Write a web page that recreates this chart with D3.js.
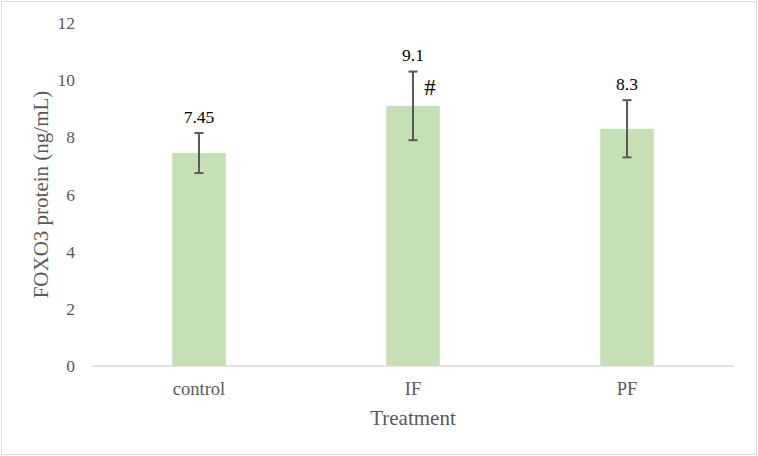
<!DOCTYPE html>
<html><head><meta charset="utf-8">
<script src="https://cdn.jsdelivr.net/npm/d3@7"></script>
<style>body{margin:0;background:#fff;} svg{display:block;}</style>
</head><body>
<script>
const categories = ["control", "IF", "PF"];
const values = [7.45, 9.1, 8.3];
const errors = [0.7, 1.2, 1.0];
const valueLabels = ["7.45", "9.1", "8.3"];
const marks = ["", "#", ""];
const yTicks = [0, 2, 4, 6, 8, 10, 12];

const W = 758, H = 456;
const m = {left: 92, right: 24, top: 23, bottom: 90};
const svg = d3.select("body").append("svg").attr("width", W).attr("height", H);
svg.append("rect").attr("x", 1.5).attr("y", 1.5).attr("width", W - 3).attr("height", H - 3)
  .attr("fill", "#fff").attr("stroke", "#D9D9D9").attr("stroke-width", 1);

const x = d3.scaleBand().domain(categories).range([m.left, W - m.right]).padding(0);
const y = d3.scaleLinear().domain([0, 12]).range([H - m.bottom, m.top]);
const font = "'Liberation Serif','Times New Roman',serif";

// y tick labels
svg.append("g").selectAll("text").data(yTicks).join("text")
  .attr("x", m.left - 17).attr("y", d => y(d)).attr("dy", "0.35em")
  .attr("text-anchor", "end").attr("font-family", font).attr("font-size", 17.5)
  .attr("fill", "#595959").text(d => d);

// bars
const bw = x.bandwidth() * 0.25;
svg.append("g").selectAll("rect").data(categories).join("rect")
  .attr("x", (d) => x(d) + x.bandwidth() / 2 - bw / 2)
  .attr("y", (d, i) => y(values[i]))
  .attr("width", bw)
  .attr("height", (d, i) => y(0) - y(values[i]))
  .attr("fill", "#C5E0B4");

// x axis line
svg.append("line").attr("x1", m.left).attr("x2", W - m.right)
  .attr("y1", y(0)).attr("y2", y(0)).attr("stroke", "#D9D9D9").attr("stroke-width", 1.5);

// error bars
const eg = svg.append("g").attr("stroke", "#595959").attr("stroke-width", 2);
categories.forEach((c, i) => {
  const cx = x(c) + x.bandwidth() / 2;
  const top = y(values[i] + errors[i]), bot = y(values[i] - errors[i]);
  eg.append("line").attr("x1", cx).attr("x2", cx).attr("y1", top).attr("y2", bot);
  eg.append("line").attr("x1", cx - 4.5).attr("x2", cx + 4.5).attr("y1", top).attr("y2", top);
  eg.append("line").attr("x1", cx - 4.5).attr("x2", cx + 4.5).attr("y1", bot).attr("y2", bot);
  svg.append("text").attr("x", cx).attr("y", top - 10.5)
    .attr("text-anchor", "middle").attr("font-family", font).attr("font-size", 17.5)
    .attr("fill", "#000").text(valueLabels[i]);
  if (marks[i]) {
    svg.append("text").attr("x", cx + 17).attr("y", top + 15).attr("dy", "0.35em")
      .attr("text-anchor", "middle").attr("font-family", font).attr("font-size", 23)
      .attr("fill", "#000").text(marks[i]);
  }
});

// category labels
svg.append("g").selectAll("text").data(categories).join("text")
  .attr("x", d => x(d) + x.bandwidth() / 2).attr("y", y(0) + 23).attr("dy", "0.35em")
  .attr("text-anchor", "middle").attr("font-family", font).attr("font-size", 18.5)
  .attr("fill", "#595959").text(d => d);

// axis titles
svg.append("text").attr("x", (m.left + W - m.right) / 2).attr("y", 418).attr("dy", "0.35em")
  .attr("text-anchor", "middle").attr("font-family", font).attr("font-size", 21)
  .attr("fill", "#595959").text("Treatment");
svg.append("text").attr("transform", `translate(41,${(y(0) + y(12)) / 2}) rotate(-90)`)
  .attr("dy", "0.35em").attr("text-anchor", "middle").attr("font-family", font).attr("font-size", 21)
  .attr("fill", "#595959").text("FOXO3 protein (ng/mL)");
</script>
</body></html>
